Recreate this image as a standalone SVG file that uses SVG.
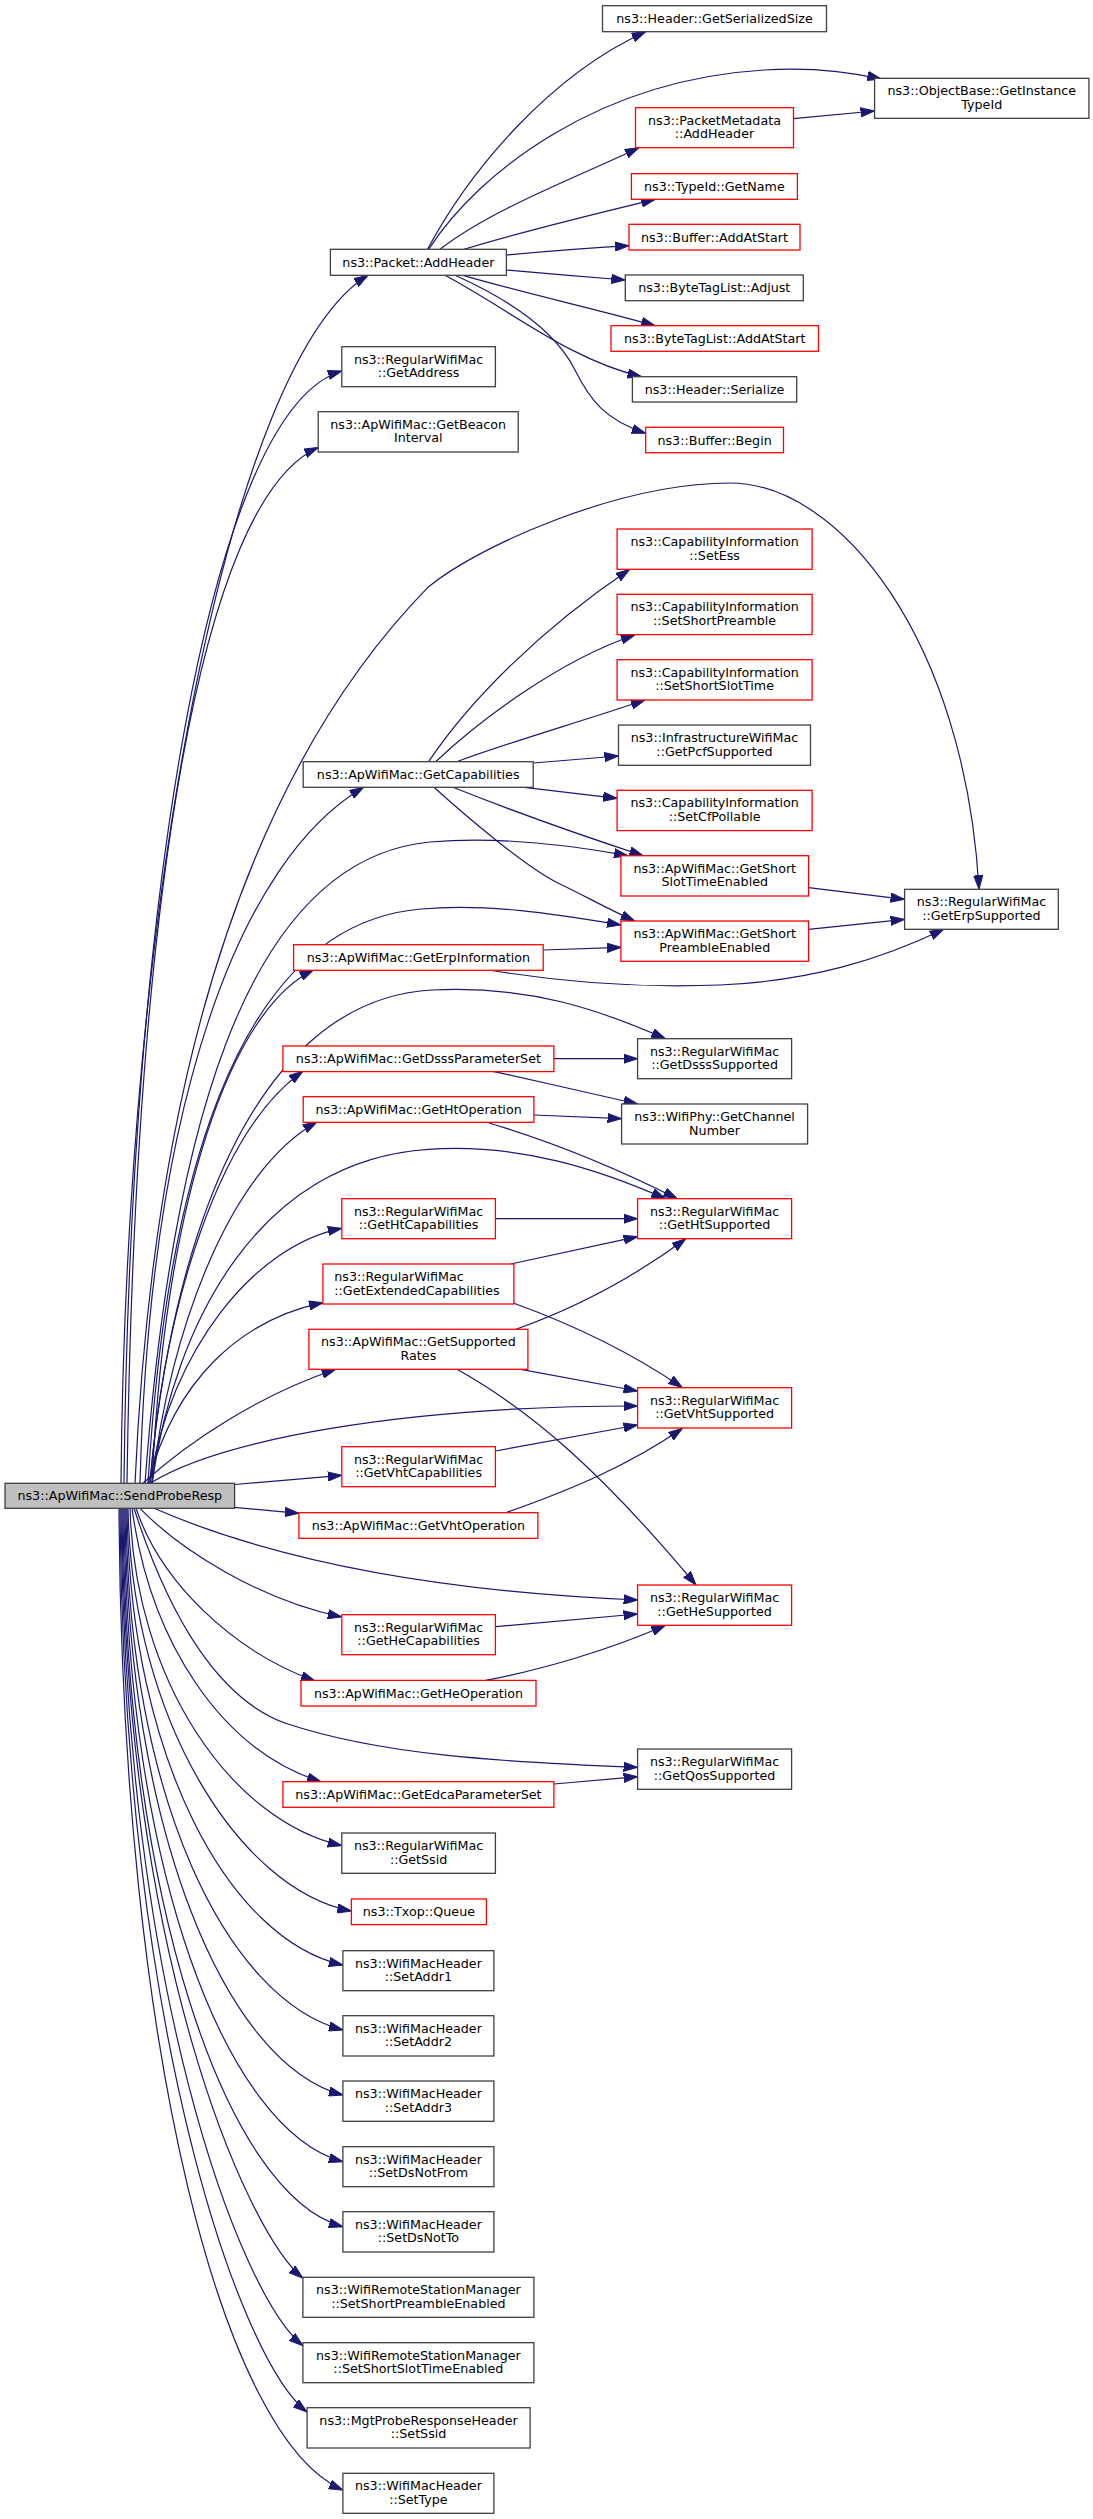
<svg xmlns="http://www.w3.org/2000/svg" width="1093" height="2519" viewBox="0 0 1093 2519">
<style>
.e{fill:none;stroke:#191970;stroke-width:1.2;marker-end:url(#a)}
.b{fill:#fff;stroke:#404040;stroke-width:1.3}
.r{fill:#fff;stroke:#ff0000;stroke-width:1.3}
.g{fill:#bfbfbf;stroke:#404040;stroke-width:1.3}
text{font-family:"DejaVu Sans","Liberation Sans",sans-serif;font-size:12.7px;fill:#000;text-anchor:middle}
.l{text-anchor:start}
</style>
<defs>
<marker id="a" viewBox="0 0 14 10" refX="14" refY="5" markerWidth="14" markerHeight="10" markerUnits="userSpaceOnUse" orient="auto"><path d="M0,0.4 L14,5 L0,9.6 z" fill="#191970" stroke="#191970" stroke-width="1"/></marker>
</defs>
<rect width="1093" height="2519" fill="#fff"/>
<g id="edges">
<path class="e" d="M121,1483.3 C126,900 230,360 368,275.3"/>
<path class="e" d="M124,1483.3 C130,900 210,410 341.8,371"/>
<path class="e" d="M127,1483.3 C135,900 200,500 318.2,447.5"/>
<path class="e" d="M135,1483.3 C150,1150 220,800 428.6,586.7 C480,545 620,483 730,483 C840,483 965,640 979,889.3"/>
<path class="e" d="M140,1483.3 C150,1100 240,860 363.6,787.3"/>
<path class="e" d="M145,1483.3 C170,1150 240,860 430,842 C500,836 570,845 628,855.7"/>
<path class="e" d="M148,1483.3 C165,1200 230,925 421,909 C490,903 560,915 621,925"/>
<path class="e" d="M152,1483.3 C165,1200 230,1010 313.6,970"/>
<path class="e" d="M150,1483.3 C170,1250 250,1000 432,990 C530,985 600,1010 665.4,1038.7"/>
<path class="e" d="M150,1483.3 C165,1300 220,1130 302.9,1071.3"/>
<path class="e" d="M152,1483.3 C170,1330 230,1170 317,1122"/>
<path class="e" d="M152,1483.3 C175,1320 260,1160 428.6,1149.3 C520,1143 600,1170 665.4,1198.7"/>
<path class="e" d="M150,1483.3 C170,1350 255,1245 341.8,1228.3"/>
<path class="e" d="M148,1483.3 C175,1380 240,1320 323,1302.7"/>
<path class="e" d="M143,1483.3 C190,1440 260,1395 335.7,1369.3"/>
<path class="e" d="M150,1483.3 C220,1440 400,1406 637.6,1406"/>
<path class="e" d="M234.6,1484.5 L341.8,1475.3"/>
<path class="e" d="M234.6,1507.3 L298.9,1513.3"/>
<path class="e" d="M154,1508.3 C250,1550 400,1590 637.6,1600"/>
<path class="e" d="M140,1508.3 C180,1550 260,1600 341.8,1617"/>
<path class="e" d="M136,1508.3 C160,1580 230,1650 315,1681"/>
<path class="e" d="M134,1508.3 C170,1620 220,1700 285.7,1723.3 C380,1755 500,1762 637.6,1767.3"/>
<path class="e" d="M132,1508.3 C150,1640 220,1750 321,1781.7"/>
<path class="e" d="M130,1508.3 C135,1680 230,1820 341.8,1845.7"/>
<path class="e" d="M128,1508.3 C132,1720 240,1890 351.4,1911"/>
<path class="e" d="M127,1508.3 C130,1760 230,1940 342.9,1965"/>
<path class="e" d="M126,1508.3 C128,1800 228,2000 342.9,2030"/>
<path class="e" d="M125,1508.3 C127,1830 226,2065 342.9,2095"/>
<path class="e" d="M124,1508.3 C126,1870 226,2130 342.9,2161.7"/>
<path class="e" d="M123,1508.3 C125,1900 226,2195 342.9,2226.7"/>
<path class="e" d="M122,1508.3 C124,1950 245,2230 302.9,2278.3"/>
<path class="e" d="M121,1508.3 C124,1990 240,2295 302.9,2345.7"/>
<path class="e" d="M120,1508.3 C123,2030 240,2360 307,2412"/>
<path class="e" d="M119,1508.3 C122,2060 225,2440 342.9,2490"/>
<path class="e" d="M427.5,249.3 C470,170 550,75 645.7,31.7"/>
<path class="e" d="M428.6,249.3 C480,170 600,80 764,70 C810,67 850,72 881.4,79"/>
<path class="e" d="M440,249.3 C490,210 575,178 638.9,147.7"/>
<path class="e" d="M464,249.3 C520,232 590,215 655.2,199.3"/>
<path class="e" d="M506.4,255 C540,252 590,248 629,245.7"/>
<path class="e" d="M506.4,270 C540,273 590,277 625.3,280"/>
<path class="e" d="M463,275.3 C520,292 600,310 655.2,325.7"/>
<path class="e" d="M445,275.3 C510,310 570,360 641.6,376.7"/>
<path class="e" d="M455,275.3 C510,300 555,330 575,370 C590,400 605,420 645.7,433.3"/>
<path class="e" d="M793.3,118.7 L874.6,111"/>
<path class="e" d="M428.6,761.7 C470,700 540,630 629.7,569.3"/>
<path class="e" d="M435.7,761.7 C480,720 560,660 634.8,635"/>
<path class="e" d="M457,761.7 C500,745 580,722 645,700"/>
<path class="e" d="M533.2,763 L618.5,756"/>
<path class="e" d="M524.3,787.3 L617.1,798.3"/>
<path class="e" d="M452.9,787.3 C510,810 580,835 643.3,855.7"/>
<path class="e" d="M434,787.3 C470,820 530,870 560,884 C585,896 610,910 634.8,921"/>
<path class="e" d="M543.2,950 L621.2,947.3"/>
<path class="e" d="M489.3,970 C560,982 640,988 720,985 C810,981 880,960 943.7,929.3"/>
<path class="e" d="M808.6,887.7 L904.6,899.3"/>
<path class="e" d="M808.6,929.3 L904.6,919.3"/>
<path class="e" d="M553.9,1058.7 L637.6,1058.7"/>
<path class="e" d="M492.9,1071.3 C540,1082 590,1093 637.6,1104"/>
<path class="e" d="M533.9,1115 L621.6,1118.7"/>
<path class="e" d="M485.7,1122 C540,1138 610,1165 677.3,1198.7"/>
<path class="e" d="M495.4,1218.7 L637.6,1218.7"/>
<path class="e" d="M510.7,1264 L637.6,1236.7"/>
<path class="e" d="M513.9,1303.3 C560,1320 620,1345 682.4,1387.7"/>
<path class="e" d="M516,1329.3 C570,1310 630,1280 685.8,1238.7"/>
<path class="e" d="M520.7,1369.3 L637.6,1391"/>
<path class="e" d="M457,1369.3 C530,1410 600,1470 696,1585"/>
<path class="e" d="M495.4,1451 L637.6,1425"/>
<path class="e" d="M507,1512.3 C570,1490 630,1465 682.4,1428.3"/>
<path class="e" d="M495.4,1626.7 L637.6,1614"/>
<path class="e" d="M485.7,1680.4 C540,1670 610,1650 665.4,1625.3"/>
<path class="e" d="M553.9,1784 L637.6,1776.7"/>
</g>
<g id="n_root"><rect class="g" x="5" y="1483.3" width="229.6" height="25"/><text x="119.8" y="1500.4">ns3::ApWifiMac::SendProbeResp</text></g>
<g id="n_addheader"><rect class="b" x="330.4" y="249.3" width="176" height="26"/><text x="418.4" y="266.9">ns3::Packet::AddHeader</text></g>
<g id="n_getaddress"><rect class="b" x="341.8" y="346.7" width="153.6" height="40"/><text x="418.6" y="363.5">ns3::RegularWifiMac</text><text x="418.6" y="377.3">::GetAddress</text></g>
<g id="n_beacon"><rect class="b" x="318.2" y="411.7" width="200" height="40.3"/><text x="418.2" y="428.6">ns3::ApWifiMac::GetBeacon</text><text x="418.2" y="442.4">Interval</text></g>
<g id="n_getcap"><rect class="b" x="303.2" y="761.7" width="230" height="25.6"/><text x="418.2" y="779.1">ns3::ApWifiMac::GetCapabilities</text></g>
<g id="n_erpinfo"><rect class="r" x="293.6" y="944.7" width="249.6" height="25.6"/><text x="418.4" y="961.9">ns3::ApWifiMac::GetErpInformation</text></g>
<g id="n_dsssparam"><rect class="r" x="282.9" y="1046" width="271" height="25.6"/><text x="418.4" y="1063.2">ns3::ApWifiMac::GetDsssParameterSet</text></g>
<g id="n_htop"><rect class="r" x="303.2" y="1096.7" width="230.7" height="25.6"/><text x="418.55" y="1113.9">ns3::ApWifiMac::GetHtOperation</text></g>
<g id="n_htcap"><rect class="r" x="341.8" y="1198.7" width="153.6" height="40"/><text x="418.6" y="1215.5">ns3::RegularWifiMac</text><text x="418.6" y="1229.3">::GetHtCapabilities</text></g>
<g id="n_extcap"><rect class="r" x="322.9" y="1264" width="191" height="40"/><text class="l" x="334.3" y="1280.8">ns3::RegularWifiMac</text><text class="l" x="334.3" y="1294.6">::GetExtendedCapabilities</text></g>
<g id="n_suprates"><rect class="r" x="308.9" y="1329.3" width="219" height="40"/><text x="418.4" y="1346.1">ns3::ApWifiMac::GetSupported</text><text x="418.4" y="1359.9">Rates</text></g>
<g id="n_vhtcap"><rect class="r" x="341.8" y="1446.7" width="153.6" height="40"/><text x="418.6" y="1463.5">ns3::RegularWifiMac</text><text x="418.6" y="1477.3">::GetVhtCapabilities</text></g>
<g id="n_vhtop"><rect class="r" x="298.9" y="1512.7" width="239" height="25.6"/><text x="418.4" y="1529.9">ns3::ApWifiMac::GetVhtOperation</text></g>
<g id="n_hecap"><rect class="r" x="341.8" y="1614.7" width="153.6" height="40"/><text x="418.6" y="1631.5">ns3::RegularWifiMac</text><text x="418.6" y="1645.3">::GetHeCapabilities</text></g>
<g id="n_heop"><rect class="r" x="301" y="1680.4" width="235" height="25.6"/><text x="418.5" y="1697.8">ns3::ApWifiMac::GetHeOperation</text></g>
<g id="n_edca"><rect class="r" x="282.9" y="1781.7" width="271" height="25.6"/><text x="418.4" y="1798.9">ns3::ApWifiMac::GetEdcaParameterSet</text></g>
<g id="n_ssid"><rect class="b" x="341.8" y="1833" width="153.6" height="40.3"/><text x="418.6" y="1849.9">ns3::RegularWifiMac</text><text x="418.6" y="1863.7">::GetSsid</text></g>
<g id="n_queue"><rect class="r" x="351.4" y="1899" width="135" height="25.6"/><text x="418.9" y="1916.4">ns3::Txop::Queue</text></g>
<g id="n_addr1"><rect class="b" x="342.9" y="1950.7" width="151" height="40"/><text x="418.4" y="1967.5">ns3::WifiMacHeader</text><text x="418.4" y="1981.3">::SetAddr1</text></g>
<g id="n_addr2"><rect class="b" x="342.9" y="2015.7" width="151" height="40.3"/><text x="418.4" y="2032.6">ns3::WifiMacHeader</text><text x="418.4" y="2046.4">::SetAddr2</text></g>
<g id="n_addr3"><rect class="b" x="342.9" y="2081" width="151" height="40.3"/><text x="418.4" y="2097.9">ns3::WifiMacHeader</text><text x="418.4" y="2111.7">::SetAddr3</text></g>
<g id="n_dsnotfrom"><rect class="b" x="342.9" y="2146.7" width="151" height="40"/><text x="418.4" y="2163.5">ns3::WifiMacHeader</text><text x="418.4" y="2177.3">::SetDsNotFrom</text></g>
<g id="n_dsnotto"><rect class="b" x="342.9" y="2211.7" width="151" height="40.3"/><text x="418.4" y="2228.6">ns3::WifiMacHeader</text><text x="418.4" y="2242.4">::SetDsNotTo</text></g>
<g id="n_wrsm_pre"><rect class="b" x="302.9" y="2277.3" width="231" height="40"/><text x="418.4" y="2294.1">ns3::WifiRemoteStationManager</text><text x="418.4" y="2307.9">::SetShortPreambleEnabled</text></g>
<g id="n_wrsm_slot"><rect class="b" x="302.9" y="2342.7" width="231" height="40"/><text x="418.4" y="2359.5">ns3::WifiRemoteStationManager</text><text x="418.4" y="2373.3">::SetShortSlotTimeEnabled</text></g>
<g id="n_mgtssid"><rect class="b" x="307.1" y="2407.7" width="223" height="40.3"/><text x="418.55" y="2424.6">ns3::MgtProbeResponseHeader</text><text x="418.55" y="2438.4">::SetSsid</text></g>
<g id="n_settype"><rect class="b" x="342.9" y="2473.3" width="151" height="40"/><text x="418.4" y="2490.1">ns3::WifiMacHeader</text><text x="418.4" y="2503.9">::SetType</text></g>
<g id="n_sersize"><rect class="b" x="602.5" y="5.7" width="224" height="26"/><text x="714.5" y="23.3">ns3::Header::GetSerializedSize</text></g>
<g id="n_pmaddheader"><rect class="r" x="635.5" y="107.7" width="158" height="40"/><text x="714.5" y="124.5">ns3::PacketMetadata</text><text x="714.5" y="138.3">::AddHeader</text></g>
<g id="n_getname"><rect class="r" x="631.4" y="173.7" width="166" height="25.6"/><text x="714.4" y="191.1">ns3::TypeId::GetName</text></g>
<g id="n_bufaddstart"><rect class="r" x="629" y="224.3" width="171" height="25.7"/><text x="714.5" y="241.8">ns3::Buffer::AddAtStart</text></g>
<g id="n_btladjust"><rect class="b" x="625.3" y="275" width="178" height="25.7"/><text x="714.3" y="292.4">ns3::ByteTagList::Adjust</text></g>
<g id="n_btladdstart"><rect class="r" x="611" y="325.7" width="207.5" height="25.6"/><text x="714.75" y="343.1">ns3::ByteTagList::AddAtStart</text></g>
<g id="n_serialize"><rect class="b" x="632.4" y="376.7" width="164.3" height="25.3"/><text x="714.55" y="393.9">ns3::Header::Serialize</text></g>
<g id="n_bufbegin"><rect class="r" x="645.7" y="427.3" width="137.8" height="25.4"/><text x="714.6" y="444.6">ns3::Buffer::Begin</text></g>
<g id="n_setess"><rect class="r" x="617.1" y="529" width="195" height="40.3"/><text x="714.6" y="545.9">ns3::CapabilityInformation</text><text x="714.6" y="559.7">::SetEss</text></g>
<g id="n_setshortpre"><rect class="r" x="617.1" y="594.3" width="195" height="40.3"/><text x="714.6" y="611.2">ns3::CapabilityInformation</text><text x="714.6" y="625">::SetShortPreamble</text></g>
<g id="n_setshortslot"><rect class="r" x="617.1" y="659.7" width="195" height="40.3"/><text x="714.6" y="676.6">ns3::CapabilityInformation</text><text x="714.6" y="690.4">::SetShortSlotTime</text></g>
<g id="n_pcf"><rect class="b" x="618.5" y="725" width="192" height="40.3"/><text x="714.5" y="741.9">ns3::InfrastructureWifiMac</text><text x="714.5" y="755.7">::GetPcfSupported</text></g>
<g id="n_cfpoll"><rect class="r" x="617.1" y="790.3" width="195" height="40.3"/><text x="714.6" y="807.2">ns3::CapabilityInformation</text><text x="714.6" y="821">::SetCfPollable</text></g>
<g id="n_shortslotenabled"><rect class="r" x="620.9" y="855.7" width="187.7" height="40.3"/><text x="714.75" y="872.6">ns3::ApWifiMac::GetShort</text><text x="714.75" y="886.4">SlotTimeEnabled</text></g>
<g id="n_shortpreenabled"><rect class="r" x="620.9" y="921" width="187.7" height="40.3"/><text x="714.75" y="937.9">ns3::ApWifiMac::GetShort</text><text x="714.75" y="951.7">PreambleEnabled</text></g>
<g id="n_dssssup"><rect class="b" x="637.6" y="1038.7" width="154" height="40"/><text x="714.6" y="1055.5">ns3::RegularWifiMac</text><text x="714.6" y="1069.3">::GetDsssSupported</text></g>
<g id="n_channel"><rect class="b" x="621.6" y="1104" width="186" height="40"/><text x="714.6" y="1120.8">ns3::WifiPhy::GetChannel</text><text x="714.6" y="1134.6">Number</text></g>
<g id="n_htsup"><rect class="r" x="637.6" y="1198.7" width="154" height="40"/><text x="714.6" y="1215.5">ns3::RegularWifiMac</text><text x="714.6" y="1229.3">::GetHtSupported</text></g>
<g id="n_vhtsup"><rect class="r" x="637.6" y="1387.7" width="154" height="40.3"/><text x="714.6" y="1404.6">ns3::RegularWifiMac</text><text x="714.6" y="1418.4">::GetVhtSupported</text></g>
<g id="n_hesup"><rect class="r" x="637.6" y="1585" width="154" height="40.3"/><text x="714.6" y="1601.9">ns3::RegularWifiMac</text><text x="714.6" y="1615.7">::GetHeSupported</text></g>
<g id="n_qossup"><rect class="b" x="637.6" y="1749" width="154" height="40.3"/><text x="714.6" y="1765.9">ns3::RegularWifiMac</text><text x="714.6" y="1779.7">::GetQosSupported</text></g>
<g id="n_typeid"><rect class="b" x="874.6" y="78.3" width="214.3" height="40"/><text x="981.75" y="95.1">ns3::ObjectBase::GetInstance</text><text x="981.75" y="108.9">TypeId</text></g>
<g id="n_erpsup"><rect class="b" x="904.6" y="889.3" width="153.7" height="40"/><text x="981.45" y="906.1">ns3::RegularWifiMac</text><text x="981.45" y="919.9">::GetErpSupported</text></g>
</svg>
